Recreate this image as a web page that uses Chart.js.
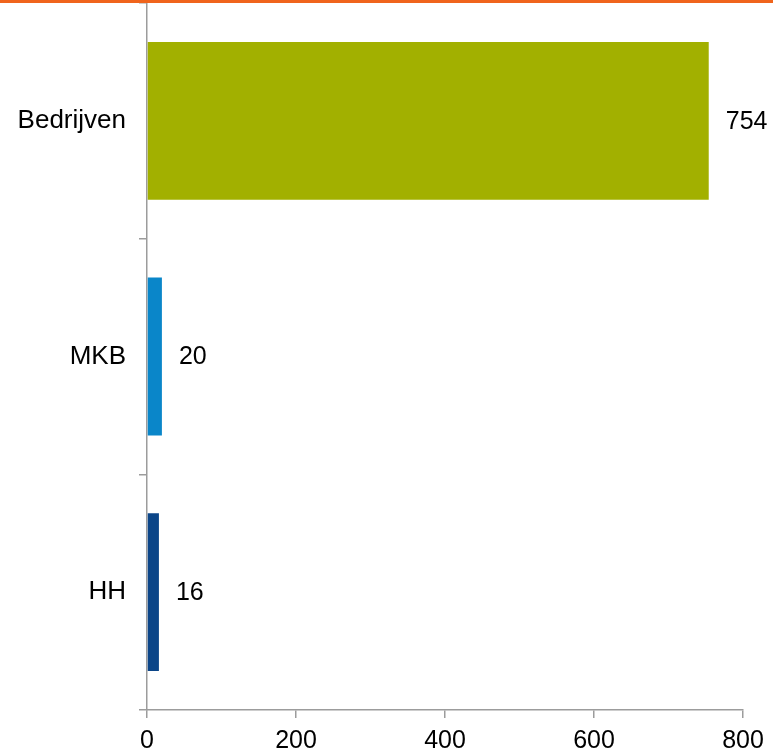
<!DOCTYPE html>
<html>
<head>
<meta charset="utf-8">
<script src="https://cdn.jsdelivr.net/npm/chart.js@4/dist/chart.umd.min.js"></script>
<style>
html,body{margin:0;padding:0;background:#fff;}
#wrap{position:relative;width:773px;height:752px;}
</style>
</head>
<body>
<div id="wrap"><canvas id="c" width="773" height="752"></canvas></div>
<script>
const categories = ['Bedrijven', 'MKB', 'HH'];
const values = [754, 20, 16];
const barColors = ['#A2B000', '#0A86C9', '#0B4588'];
const xTickValues = [0, 200, 400, 600, 800];

const FONT = 'Liberation Sans, Arial, sans-serif';
const AXIS = '#9C9C9C';

const valueLabels = {
  id: 'valueLabels',
  afterDatasetsDraw(chart) {
    const ctx = chart.ctx;
    const meta = chart.getDatasetMeta(0);
    ctx.save();
    ctx.font = '25px ' + FONT;
    ctx.fillStyle = '#000';
    ctx.textAlign = 'left';
    ctx.textBaseline = 'middle';
    meta.data.forEach((bar, i) => {
      ctx.fillText(String(values[i]), bar.x + 17, bar.y + 1);
    });
    ctx.restore();
  }
};

const topLine = {
  id: 'topLine',
  afterDraw(chart) {
    const ctx = chart.ctx;
    ctx.save();
    ctx.fillStyle = '#F0641C';
    ctx.fillRect(0, 0, chart.width, 3);
    ctx.restore();
  }
};

new Chart(document.getElementById('c'), {
  type: 'bar',
  data: {
    labels: categories,
    datasets: [{
      data: values,
      backgroundColor: barColors,
      borderWidth: 0,
      categoryPercentage: 1,
      barPercentage: 0.67
    }]
  },
  options: {
    indexAxis: 'y',
    responsive: false,
    animation: false,
    layout: { padding: { top: 3, right: 30, left: 0, bottom: 0 } },
    plugins: { legend: { display: false }, tooltip: { enabled: false } },
    scales: {
      x: {
        min: 0, max: 800,
        afterBuildTicks(scale) { scale.ticks = xTickValues.map(v => ({ value: v })); },
        afterFit(scale) { scale.height = 42; scale.paddingLeft = 0; scale.paddingRight = 0; },
        border: { color: AXIS, width: 1.5 },
        grid: { drawOnChartArea: false, color: AXIS, lineWidth: 1.5, tickLength: 8 },
        ticks: { color: '#000', font: { family: FONT, size: 25 }, padding: 8, maxRotation: 0 }
      },
      y: {
        afterFit(scale) { scale.width = 147; scale.paddingTop = 0; scale.paddingBottom = 0; },
        border: { color: AXIS, width: 1.5 },
        grid: { drawOnChartArea: false, color: AXIS, lineWidth: 1.5, tickLength: 8, offset: true },
        ticks: { color: '#000', font: { family: FONT, size: 26 }, padding: 13 }
      }
    }
  },
  plugins: [valueLabels, topLine]
});
</script>
</body>
</html>
